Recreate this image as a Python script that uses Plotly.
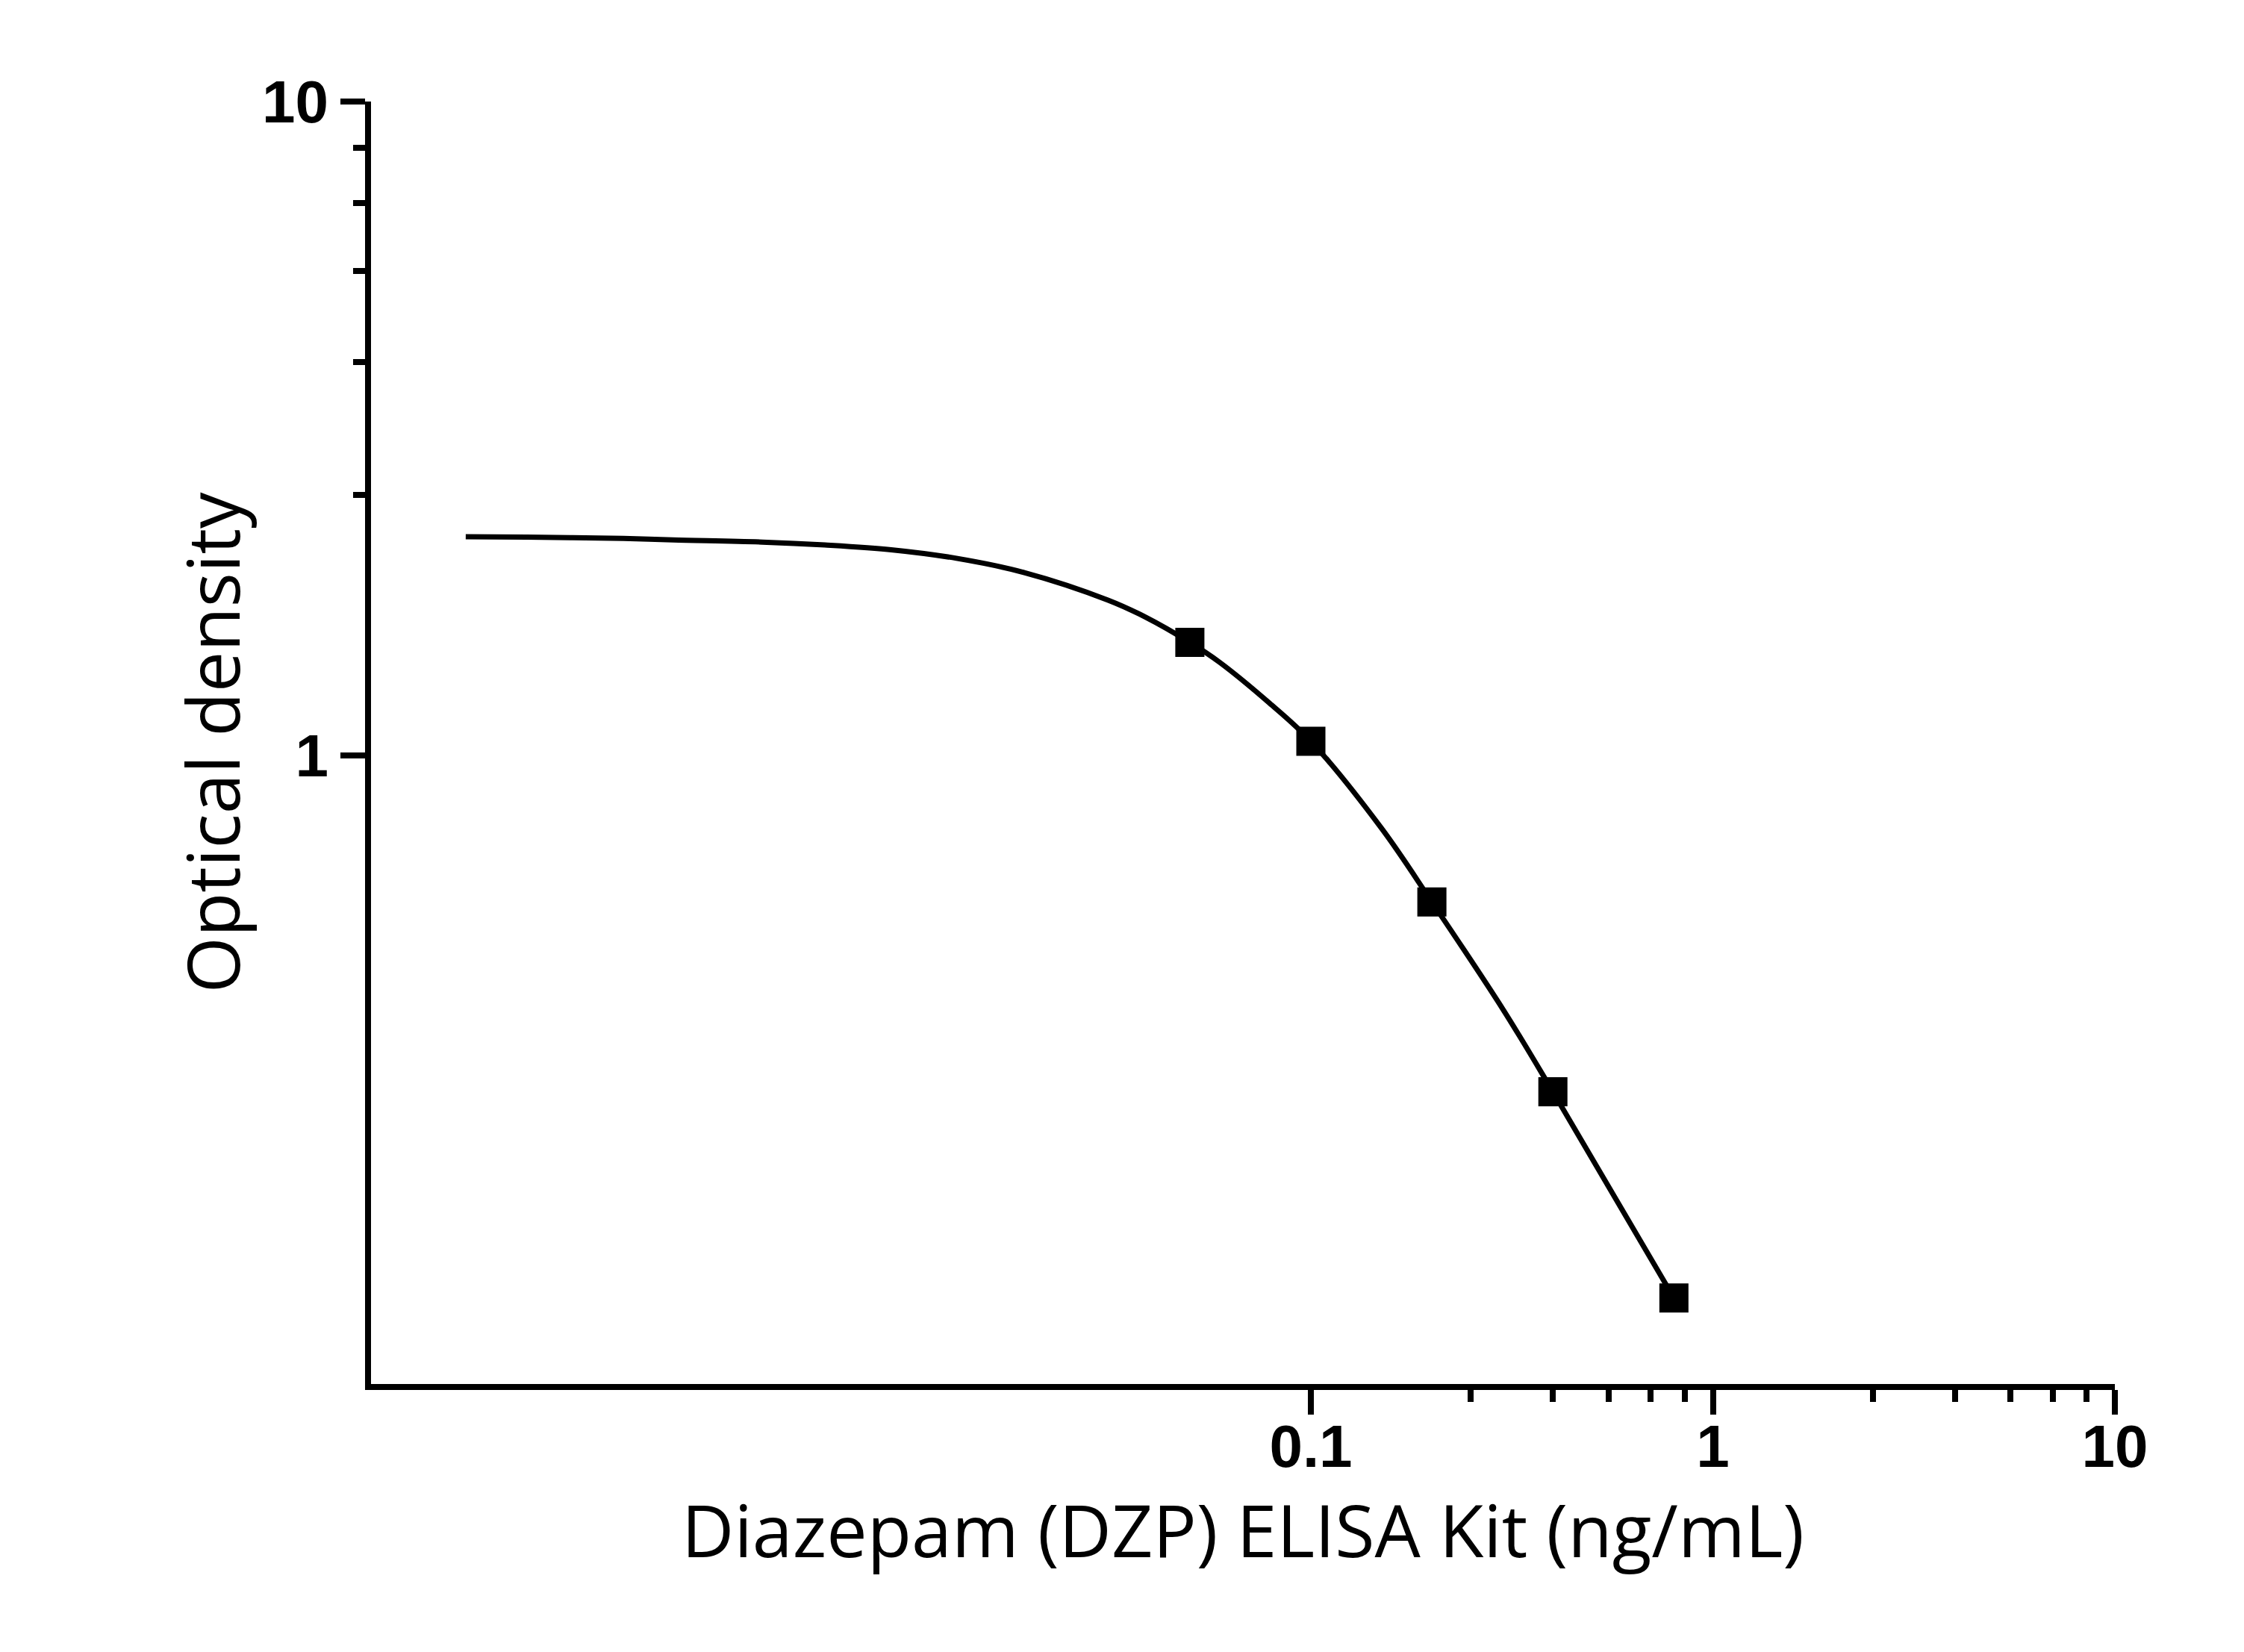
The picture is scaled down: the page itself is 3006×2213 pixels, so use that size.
import plotly.graph_objects as go

# standards (ng/mL) and measured optical density
conc = [0.05, 0.1, 0.2, 0.4, 0.8]
od = [1.489, 1.051, 0.597, 0.306, 0.148]

# fitted curve
curve_conc = [0.00079, 0.00112, 0.00195, 0.00259, 0.00432, 0.00618, 0.00913,
              0.01313, 0.01938, 0.0313, 0.0386, 0.05, 0.0593, 0.0788, 0.1,
              0.1498, 0.2, 0.3013, 0.4, 0.8]
curve_od = [2.160, 2.157, 2.147, 2.136, 2.120, 2.098, 2.062,
            2.002, 1.904, 1.728, 1.630, 1.489, 1.388, 1.203, 1.051,
            0.774, 0.597, 0.408, 0.306, 0.148]

x_ticks = [0.1, 1, 10]
x_tick_labels = ["0.1", "1", "10"]
y_ticks = [1, 10]
y_tick_labels = ["1", "10"]
x_minor = [0.25, 0.4, 0.55, 0.7, 0.85, 2.5, 4, 5.5, 7, 8.5]
y_minor = [2.5, 4, 5.5, 7, 8.5]

fig = go.Figure()
fig.add_trace(go.Scatter(
    x=curve_conc, y=curve_od, mode="lines",
    line=dict(color="black", width=7, shape="spline", smoothing=1.0),
    hoverinfo="skip", showlegend=False
))
fig.add_trace(go.Scatter(
    x=conc, y=od, mode="markers",
    marker=dict(symbol="square", size=39, color="black", line=dict(width=0)),
    showlegend=False
))

tick_font = dict(family="Liberation Sans, Arial", size=80, color="black", weight="bold")
title_font = dict(family="Open Sans, Noto Sans", size=97, color="black")

fig.update_layout(
    width=2990,
    height=2197,
    margin=dict(l=489, r=165, t=128, b=351),
    plot_bgcolor="white",
    paper_bgcolor="white",
    xaxis=dict(
        type="log",
        range=[-3.338, 1],
        showgrid=False,
        zeroline=False,
        showline=True,
        linecolor="black",
        linewidth=8,
        ticks="outside",
        ticklen=33,
        tickwidth=8,
        tickcolor="black",
        tickmode="array",
        tickvals=x_ticks,
        ticktext=x_tick_labels,
        tickfont=tick_font,
        ticklabelstandoff=-26,
        minor=dict(tickmode="array", tickvals=x_minor, ticks="outside",
                   ticklen=16, tickwidth=8, tickcolor="black", showgrid=False),
        title=dict(text="Diazepam (DZP) ELISA Kit (ng/mL)", font=title_font, standoff=30),
    ),
    yaxis=dict(
        type="log",
        range=[-0.9612, 1],
        showgrid=False,
        zeroline=False,
        showline=True,
        linecolor="black",
        linewidth=8,
        ticks="outside",
        ticklen=33,
        tickwidth=8,
        tickcolor="black",
        tickmode="array",
        tickvals=y_ticks,
        ticktext=y_tick_labels,
        tickfont=tick_font,
        minor=dict(tickmode="array", tickvals=y_minor, ticks="outside",
                   ticklen=16, tickwidth=8, tickcolor="black", showgrid=False),
        title=dict(text="Optical density", font=title_font, standoff=0),
    ),
)

fig.write_html("out.html")
